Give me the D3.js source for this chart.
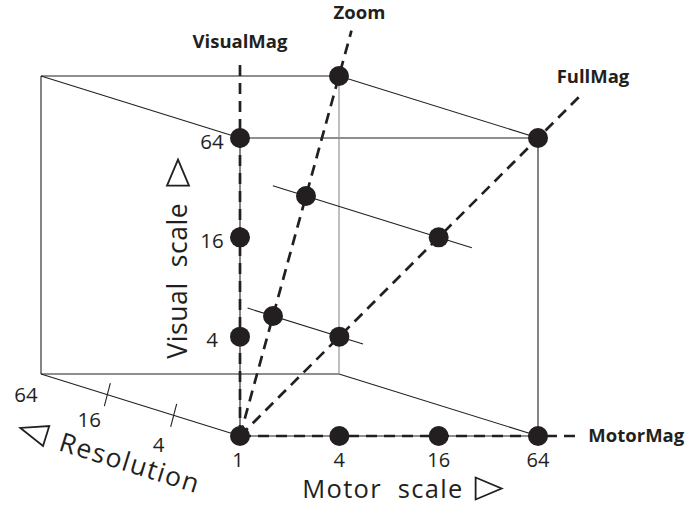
<!DOCTYPE html>
<html><head><meta charset="utf-8">
<script src="https://cdn.jsdelivr.net/npm/d3@7"></script>
<style>body{margin:0;background:#fff}text{font-family:"Open Sans",sans-serif;fill:#231f20}</style>
</head><body><svg id="c" width="685" height="506"></svg>
<script>
// ---- data (log4 scales: 1, 4, 16, 64) ----
const levels = [1, 4, 16, 64];
const tickLabels = ["1", "4", "16", "64"];
const visualMagVisual = [4, 16, 64];   // motor = 1, resolution = 1
const motorMagMotor = [4, 16, 64];     // visual = 1, resolution = 1
const fullMagScale = [4, 16, 64];      // motor = visual, resolution = 1
const zoomScale = [4, 16, 64];         // motor = visual = resolution
const seriesNames = ["VisualMag", "Zoom", "FullMag", "MotorMag"];
const seriesExtent = [194, 108, 121, 114]; // how far each dashed path continues
const crossScale = [4, 16];            // motor = visual for the resolution cross lines
const crossResFrom = [0.61, 0.5];
const crossResTo = [6.8, 32];

const ink = "#231f20";
const svg = d3.select("#c");

const xMotor = d3.scaleLog().base(4).domain([1, 64]).range([240, 538]);
const yVisual = d3.scaleLog().base(4).domain([1, 64]).range([436, 138]);
const rX = d3.scaleLog().base(4).domain([1, 64]).range([0, -199]);
const rY = d3.scaleLog().base(4).domain([1, 64]).range([0, -62]);
const P = (m, v, r) => [xMotor(m) + rX(r), yVisual(v) + rY(r)];
const line = d3.line();

// ---- cube edges ----
const lo = 1, hi = 64;
const corners = [];
[lo, hi].forEach(m => [lo, hi].forEach(v => [lo, hi].forEach(r => corners.push([m, v, r]))));
const edges = [];
corners.forEach(a => corners.forEach(b => {
  const diff = a.filter((d, i) => d !== b[i]).length;
  if (diff === 1 && a.join() < b.join()) edges.push([a, b]);
}));
svg.append("g").selectAll("path").data(edges).join("path")
  .attr("d", e => line(e.map(c => P(...c))))
  .attr("fill", "none")
  .attr("stroke", e => (e[0][0] === hi && e[1][0] === hi && e[0][2] === hi && e[1][2] === hi) ? "#8a8a8a" : ink)
  .attr("stroke-width", 1.1);

// ---- resolution ticks ----
svg.append("g").selectAll("path").data([4, 16]).join("path")
  .attr("d", r => { const [x, y] = P(1, 1, r); return line([[x + 3, y - 11.5], [x - 3, y + 11.5]]); })
  .attr("stroke", ink).attr("stroke-width", 1.1);

// ---- cross lines along resolution ----
svg.append("g").selectAll("path").data(crossScale).join("path")
  .attr("d", (s, i) => line([P(s, s, crossResTo[i]), P(s, s, crossResFrom[i])]))
  .attr("stroke", ink).attr("stroke-width", 1.1);

// ---- dashed magnification paths ----
const pathPoint = [
  t => P(1, t, 1),   // VisualMag
  t => P(t, t, t),   // Zoom
  t => P(t, t, 1),   // FullMag
  t => P(t, 1, 1)    // MotorMag
];
svg.append("g").selectAll("path").data(seriesNames).join("path")
  .attr("d", (n, i) => line([pathPoint[i](1), pathPoint[i](seriesExtent[i])]))
  .attr("fill", "none").attr("stroke", ink).attr("stroke-width", 2.7)
  .attr("stroke-dasharray", "11,7");

// ---- dots ----
const dots = [P(1, 1, 1)]
  .concat(visualMagVisual.map(v => P(1, v, 1)))
  .concat(motorMagMotor.map(m => P(m, 1, 1)))
  .concat(fullMagScale.map(s => P(s, s, 1)))
  .concat(zoomScale.map(s => P(s, s, s)));
svg.append("g").selectAll("circle").data(dots).join("circle")
  .attr("cx", d => d[0]).attr("cy", d => d[1]).attr("r", 10).attr("fill", ink);

// ---- series labels ----
const labelAnchor = ["middle", "middle", "start", "start"];
const labelPos = [
  () => { const p = pathPoint[0](seriesExtent[0]); return [p[0], p[1] - 11]; },
  () => { const p = pathPoint[1](seriesExtent[1]); return [p[0] + 8, p[1] - 12]; },
  () => { const p = pathPoint[2](seriesExtent[2]); return [p[0] - 27, p[1] - 9]; },
  () => { const p = pathPoint[3](seriesExtent[3]); return [p[0] + 9, p[1] + 6]; }
];
svg.append("g").selectAll("text").data(seriesNames).join("text")
  .attr("x", (n, i) => labelPos[i]()[0]).attr("y", (n, i) => labelPos[i]()[1])
  .attr("text-anchor", (n, i) => labelAnchor[i])
  .attr("font-weight", "bold").attr("font-size", 18.5).text(n => n);

// ---- tick labels ----
svg.append("g").selectAll("text").data(levels).join("text")
  .attr("x", (d, i) => xMotor(d) - (i === 0 ? 2 : 0)).attr("y", 467)
  .attr("text-anchor", "middle").attr("font-size", 20)
  .text((d, i) => tickLabels[i]);
svg.append("g").selectAll("text").data(levels.slice(1)).join("text")
  .attr("x", 212).attr("y", d => yVisual(d) + 10.5)
  .attr("text-anchor", "middle").attr("font-size", 20.5)
  .text((d, i) => tickLabels[i + 1]);
svg.append("g").selectAll("text").data(levels.slice(1)).join("text")
  .attr("x", (d, i) => P(1, 1, d)[0] - 15 + (i === 1 ? -3 : 0))
  .attr("y", (d, i) => P(1, 1, d)[1] + 37 - 4.5 * i)
  .attr("text-anchor", "middle").attr("font-size", 20.5)
  .text((d, i) => tickLabels[i + 1]);

// ---- axis titles with outline triangles ----
const tri = (x0, dir) => dir > 0
  ? line([[x0, -20], [x0, 2], [x0 + 26, -9]]) + "Z"
  : line([[x0, -20.4], [x0, 0.5], [x0 - 27, -10]]) + "Z";

function title(txt, transform, dir, size, spacing, gap) {
  const g = svg.append("g").attr("transform", transform);
  const t = g.append("text").attr("font-size", size).attr("letter-spacing", spacing)
    .style("white-space", "pre").text(txt);
  if (dir > 0) {
    const w = t.node().getComputedTextLength();
    g.append("path").attr("d", tri(w + gap, 1)).attr("fill", "none").attr("stroke", ink).attr("stroke-width", 1.8);
  } else {
    g.append("path").attr("d", tri(-15, -1)).attr("fill", "none").attr("stroke", ink).attr("stroke-width", 1.8);
  }
}
title("Motor  scale", `translate(${xMotor(4) - 37},497.5)`, 1, 25.5, 1.3, 12);
title("Visual  scale", `translate(187,${yVisual(4) + 22}) rotate(-90)`, 1, 26.5, 0.6, 17);
title("Resolution", `translate(57.5,450) rotate(17.3)`, -1, 26.5, 1.5, 0);
</script></body></html>
